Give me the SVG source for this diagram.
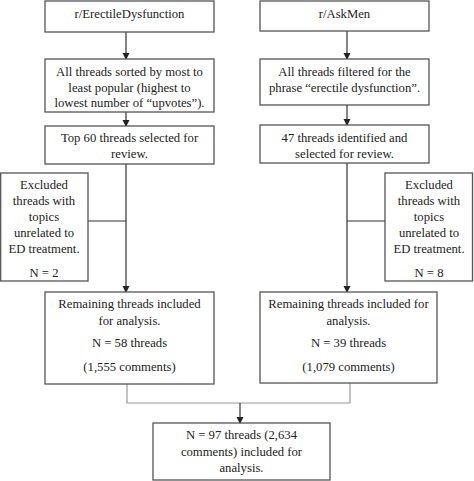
<svg xmlns="http://www.w3.org/2000/svg" width="474" height="481" viewBox="0 0 474 481">
<defs>
<marker id="ah" markerWidth="8" markerHeight="8" refX="6" refY="3.5" orient="auto" markerUnits="userSpaceOnUse">
<path d="M0,0 L7,3.5 L0,7 Z" fill="#222"/>
</marker>
</defs>
<style>
.box{fill:#fff;stroke:#555;stroke-width:1.3}
.t{font-family:"Liberation Serif","Times New Roman",serif;font-size:12.7px;fill:#222;text-anchor:middle}
.c{fill:none;stroke:#333;stroke-width:1.2}
.g{fill:none;stroke:#999;stroke-width:1.2}
</style>
<rect width="474" height="481" fill="#fff"/>
<g id="connectors">
<line class="c" x1="126" y1="32" x2="126" y2="59" marker-end="url(#ah)"/>
<line class="c" x1="126" y1="112" x2="126" y2="126" marker-end="url(#ah)"/>
<line class="c" x1="126" y1="164" x2="126" y2="292" marker-end="url(#ah)"/>
<line class="c" x1="88" y1="221" x2="126" y2="221"/>
<line class="c" x1="347" y1="31" x2="347" y2="59" marker-end="url(#ah)"/>
<line class="c" x1="347" y1="105" x2="347" y2="125" marker-end="url(#ah)"/>
<line class="c" x1="347" y1="163" x2="347" y2="292" marker-end="url(#ah)"/>
<line class="c" x1="347" y1="221" x2="385" y2="221"/>
<polyline class="g" points="127,384 127,403 350,403 350,383"/>
<line class="c" x1="240" y1="403" x2="240" y2="423" marker-end="url(#ah)"/>
</g>
<g id="n1">
<rect class="box" x="45" y="1" width="169" height="31"/>
<text class="t" x="129.5" y="18">r/ErectileDysfunction</text>
</g>
<g id="n2">
<rect class="box" x="45" y="59" width="169" height="53"/>
<text class="t" x="129.5" y="75.5">All threads sorted by most to</text>
<text class="t" x="129.5" y="91.5">least popular (highest to</text>
<text class="t" x="129.5" y="106.5">lowest number of “upvotes”).</text>
</g>
<g id="n3">
<rect class="box" x="45" y="126" width="169" height="38"/>
<text class="t" x="129.5" y="141.5">Top 60 threads selected for</text>
<text class="t" x="129.5" y="157.5">review.</text>
</g>
<g id="n4">
<rect class="box" x="0.7" y="173" width="87.3" height="108"/>
<text class="t" x="44" y="188.5">Excluded</text>
<text class="t" x="44" y="204.5">threads with</text>
<text class="t" x="44" y="220.5">topics</text>
<text class="t" x="44" y="236.5">unrelated to</text>
<text class="t" x="44" y="252.5">ED treatment.</text>
<text class="t" x="44" y="276.5">N = 2</text>
</g>
<g id="n5">
<rect class="box" x="45" y="292" width="169" height="92"/>
<text class="t" x="129.5" y="307.5">Remaining threads included</text>
<text class="t" x="129.5" y="324.5">for analysis.</text>
<text class="t" x="129.5" y="346.5">N = 58 threads</text>
<text class="t" x="129.5" y="370.5">(1,555 comments)</text>
</g>
<g id="n6">
<rect class="box" x="260" y="1" width="169" height="30"/>
<text class="t" x="344.5" y="17.5">r/AskMen</text>
</g>
<g id="n7">
<rect class="box" x="260" y="59" width="169" height="46"/>
<text class="t" x="344.5" y="75.5">All threads filtered for the</text>
<text class="t" x="344.5" y="91.5">phrase “erectile dysfunction”.</text>
</g>
<g id="n8">
<rect class="box" x="260" y="125" width="169" height="38"/>
<text class="t" x="344.5" y="141.5">47 threads identified and</text>
<text class="t" x="344.5" y="157.5">selected for review.</text>
</g>
<g id="n9">
<rect class="box" x="385" y="173" width="87.5" height="108"/>
<text class="t" x="429" y="188.5">Excluded</text>
<text class="t" x="429" y="204.5">threads with</text>
<text class="t" x="429" y="220.5">topics</text>
<text class="t" x="429" y="236.5">unrelated to</text>
<text class="t" x="429" y="252.5">ED treatment.</text>
<text class="t" x="429" y="276.5">N = 8</text>
</g>
<g id="n10">
<rect class="box" x="260" y="292" width="177" height="91"/>
<text class="t" x="348.5" y="307.5">Remaining threads included for</text>
<text class="t" x="348.5" y="324.5">analysis.</text>
<text class="t" x="348.5" y="346.5">N = 39 threads</text>
<text class="t" x="348.5" y="370.5">(1,079 comments)</text>
</g>
<g id="n11">
<rect class="box" x="153" y="423" width="177" height="57"/>
<text class="t" x="241.5" y="438.5">N = 97 threads (2,634</text>
<text class="t" x="241.5" y="455.5">comments) included for</text>
<text class="t" x="241.5" y="471.5">analysis.</text>
</g>
</svg>
